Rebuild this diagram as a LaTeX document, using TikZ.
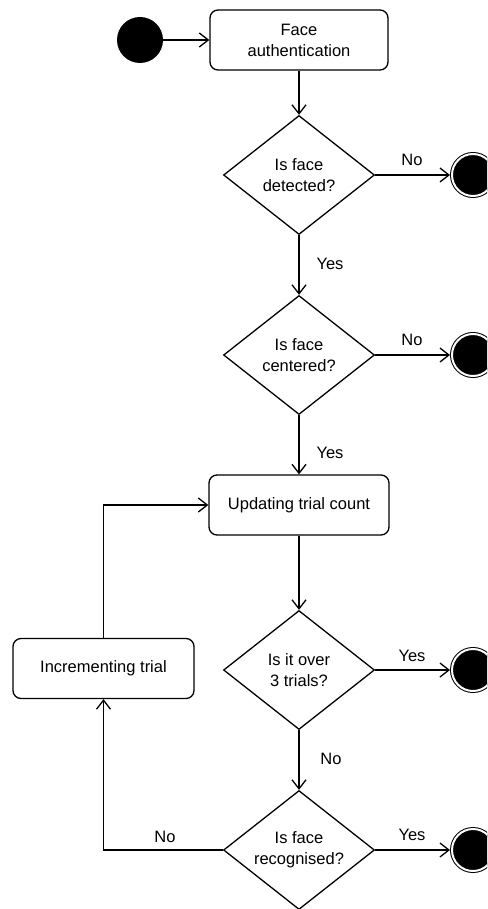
\documentclass[tikz,border=0pt]{standalone}
\usepackage{fontspec}
\setmainfont{Liberation Sans}
\usetikzlibrary{shapes.geometric,arrows.meta}

\tikzset{
  flow/.style={line width=1.3pt, -{Straight Barb[length=9pt,width=14pt,line width=1.3pt]}},
  txt/.style={font=\fontsize{16.5}{21}\selectfont, align=center},
  action/.style={txt, draw, line width=1.3pt, rounded corners=8pt, inner sep=0pt,
    minimum height=60pt, fill=white},
  decision/.style={txt, draw, line width=1.3pt, diamond, aspect=1.26, inner sep=0pt,
    minimum width=151pt, minimum height=119pt, fill=white},
  initial/.style={circle, fill=black, inner sep=0pt, minimum size=46pt},
  final/.style={circle, fill=black, draw=black, line width=1pt, double=white,
    double distance=2pt, inner sep=0pt, minimum size=42pt, outer sep=2pt},
  lbl/.style={txt, inner sep=0pt},
}

\begin{document}
\begin{tikzpicture}[x=1pt, y=-1pt]
  \useasboundingbox (0,0) rectangle (487,909);
  \clip (0,0) rectangle (487,909);

  % states and activities
  \node[initial] (start) at (140,40) {};
  \node[action, minimum width=178pt] (auth) at (299,40) {Face\\authentication};
  \node[decision] (det) at (299,175) {Is face\\detected?};
  \node[decision] (cen) at (299,355) {Is face\\centered?};
  \node[action, minimum width=180pt] (upd) at (299,505) {Updating trial count};
  \node[decision] (over) at (299,670) {Is it over\\3 trials?};
  \node[decision] (rec) at (299,850) {Is face\\recognised?};
  \node[action, minimum width=181pt] (inc) at (103.5,668.5) {Incrementing trial};

  \node[final] (endA) at (473,175) {};
  \node[final] (endB) at (473,355) {};
  \node[final] (endC) at (473,670) {};
  \node[final] (endD) at (473,850) {};

  % transitions
  \draw[flow] (start) -- (auth);
  \draw[flow] (auth.south) -- (det.north);
  \draw[flow] (det.east) -- (endA);
  \draw[flow] (det.south) -- (cen.north);
  \draw[flow] (cen.east) -- (endB);
  \draw[flow] (cen.south) -- (upd.north);
  \draw[flow] (upd.south) -- (over.north);
  \draw[flow] (over.east) -- (endC);
  \draw[flow] (over.south) -- (rec.north);
  \draw[flow] (rec.east) -- (endD);
  \draw[flow] (rec.west) -| (inc.south);
  \draw[flow] (inc.north) |- (upd.west);

  % transition labels
  \node[lbl] (noA) at (412,160) {No};
  \node[lbl] (yesA) at (330,264) {Yes};
  \node[lbl] (noB) at (412,340) {No};
  \node[lbl] (yesB) at (330,453) {Yes};
  \node[lbl] (yesC) at (412,656) {Yes};
  \node[lbl] (noC) at (331,759) {No};
  \node[lbl] (yesD) at (412,835) {Yes};
  \node[lbl] (noD) at (165,837) {No};
\end{tikzpicture}
\end{document}
